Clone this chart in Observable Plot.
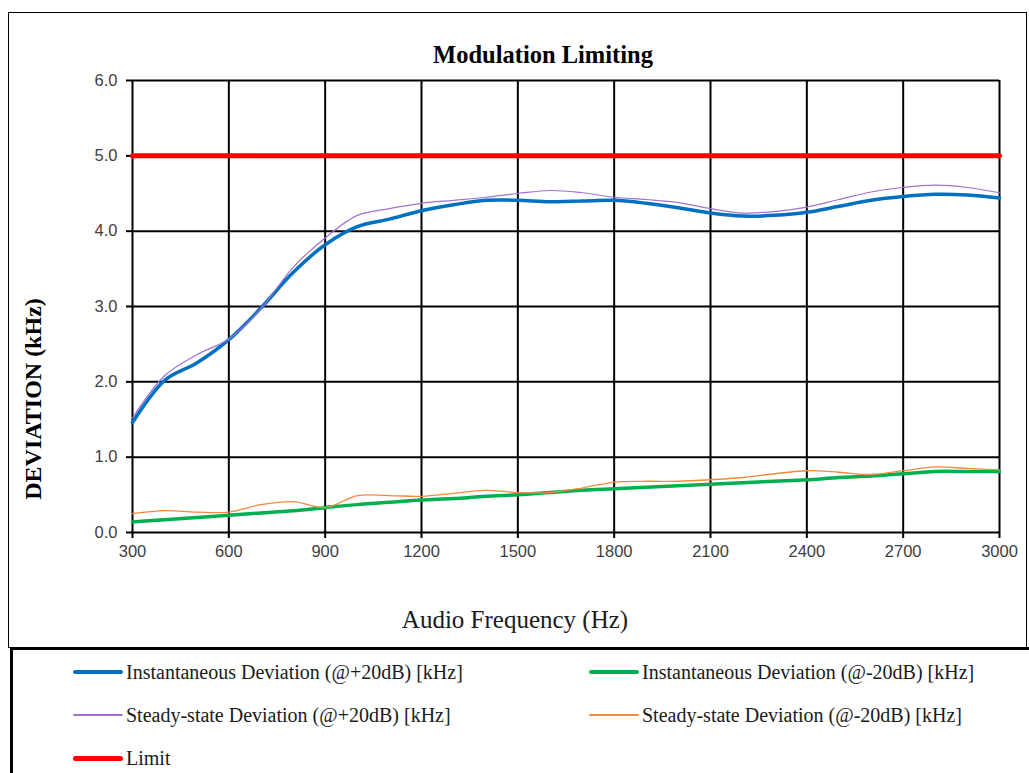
<!DOCTYPE html>
<html>
<head>
<meta charset="utf-8">
<script src="https://cdn.jsdelivr.net/npm/d3@7"></script>
<script src="https://cdn.jsdelivr.net/npm/@observablehq/plot@0.6"></script>
<style>
  html, body { margin: 0; padding: 0; background: #fff; overflow: hidden; width: 1029px; height: 773px; }
  #wrap { position: relative; width: 1029px; height: 773px; }
  #chart { position: absolute; left: 0; top: 0; }
  .serif { font-family: "Liberation Serif", "Times New Roman", serif; color: #000; white-space: nowrap; position: absolute; line-height: 1; }
  #box { position: absolute; left: 8px; top: 12px; width: 1019px; height: 636px; border: 1.5px solid #000; box-sizing: border-box; pointer-events: none; }
  #legendbox { position: absolute; left: 10px; top: 647px; width: 1030px; height: 140px; border-left: 3px solid #000; border-top: 3px solid #000; box-sizing: border-box; }
  .lg { position: absolute; display: flex; align-items: center; }
  .sw { width: 50px; border-radius: 3px; }
  .lt { font-family: "Liberation Serif", "Times New Roman", serif; font-size: 20px; color: #1a1a1a; margin-left: 3px; white-space: nowrap; }
</style>
</head>
<body>
<div id="wrap">
  <div id="chart"></div>
  <div id="box"></div>
  <div class="serif" id="title" style="left:543px; top:55px; transform:translate(-50%,-50%); font-weight:bold; font-size:24.5px;">Modulation Limiting</div>
  <div class="serif" id="ylab" style="left:33px; top:399px; transform:translate(-50%,-50%) rotate(-90deg); font-weight:bold; font-size:24px;">DEVIATION (kHz)</div>
  <div class="serif" id="xlab" style="left:515px; top:619px; transform:translate(-50%,-50%); font-size:25px; color:#1a1a1a;">Audio Frequency (Hz)</div>
  <div id="legendbox"></div>
  <div id="legend"></div>
</div>
<script>
// ---- data ----
const freq = [300, 400, 500, 600, 700, 800, 900, 1000, 1100, 1200, 1300, 1400, 1500, 1600,
              1700, 1800, 1900, 2000, 2100, 2200, 2300, 2400, 2500, 2600, 2700, 2800, 2900, 3000];
const instPlus20 = [1.46, 2.02, 2.25, 2.56, 2.98, 3.45, 3.82, 4.06, 4.16, 4.27, 4.35, 4.41, 4.41, 4.39,
                    4.40, 4.41, 4.37, 4.31, 4.24, 4.20, 4.21, 4.25, 4.33, 4.41, 4.46, 4.49, 4.48, 4.44];
const instMinus20 = [0.14, 0.17, 0.20, 0.23, 0.26, 0.29, 0.33, 0.37, 0.40, 0.43, 0.45, 0.48, 0.50, 0.53,
                     0.56, 0.58, 0.60, 0.62, 0.64, 0.66, 0.68, 0.70, 0.73, 0.75, 0.78, 0.81, 0.81, 0.81];
const steadyPlus20 = [1.52, 2.08, 2.36, 2.57, 2.97, 3.52, 3.91, 4.21, 4.30, 4.37, 4.41, 4.45, 4.50, 4.54,
                      4.51, 4.45, 4.42, 4.38, 4.30, 4.24, 4.26, 4.32, 4.42, 4.52, 4.58, 4.61, 4.58, 4.51];
const steadyMinus20 = [0.25, 0.29, 0.27, 0.27, 0.37, 0.41, 0.33, 0.49, 0.49, 0.48, 0.52, 0.56, 0.53, 0.53,
                       0.59, 0.67, 0.68, 0.68, 0.70, 0.73, 0.78, 0.82, 0.80, 0.77, 0.82, 0.87, 0.85, 0.83];
const limitFreq = [300, 3000];
const limitValues = [5.0, 5.0];
const xTicks = [300, 600, 900, 1200, 1500, 1800, 2100, 2400, 2700, 3000];
const yTicks = [0, 1, 2, 3, 4, 5, 6];

const seriesNames = [
  "Instantaneous Deviation (@+20dB) [kHz]",
  "Instantaneous Deviation (@-20dB) [kHz]",
  "Steady-state Deviation (@+20dB) [kHz]",
  "Steady-state Deviation (@-20dB) [kHz]",
  "Limit"
];
const seriesColors = ["#0070C0", "#00B050", "#9E72CE", "#F08A3C", "#FF0000"];
const seriesWidths = [3.5, 3.5, 1.2, 1.3, 5];

const toRows = (vals) => freq.map((f, i) => ({f, v: vals[i]}));
const rows = [toRows(instPlus20), toRows(instMinus20), toRows(steadyPlus20), toRows(steadyMinus20),
              limitFreq.map((f, i) => ({f, v: limitValues[i]}))];

const chart = Plot.plot({
  width: 1029,
  height: 650,
  marginLeft: 132,
  marginRight: 30,
  marginTop: 80,
  marginBottom: 118,
  style: {background: "transparent", fontFamily: "'Liberation Sans', Arial, sans-serif", fontSize: "16px"},
  x: {domain: [300, 3000]},
  y: {domain: [0, 6]},
  marks: [
    Plot.gridX(xTicks, {stroke: "#000", strokeOpacity: 1, strokeWidth: 2}),
    Plot.gridY(yTicks, {stroke: "#000", strokeOpacity: 1, strokeWidth: 2}),
    Plot.axisX(xTicks, {tickSize: 6, tickPadding: 7, stroke: "#000", strokeWidth: 2, fill: "#404040", fontSize: 16.5, label: null, tickFormat: d => String(d)}),
    Plot.axisY(yTicks, {tickSize: 6, tickPadding: 9, stroke: "#000", strokeWidth: 2, fill: "#404040", fontSize: 16.5, label: null, tickFormat: d => d.toFixed(1)}),
    ...[0, 1, 2, 3, 4].map(i => Plot.line(rows[i], {
      x: "f", y: "v", stroke: seriesColors[i], strokeWidth: seriesWidths[i],
      curve: i === 4 ? "linear" : "catmull-rom"
    }))
  ]
});
document.getElementById("chart").appendChild(chart);

// legend
const legendPos = [
  {x: 73, y: 672}, {x: 589, y: 672},
  {x: 73, y: 715}, {x: 589, y: 715},
  {x: 73, y: 758}
];
const legend = document.getElementById("legend");
seriesNames.forEach((name, i) => {
  const item = document.createElement("div");
  item.className = "lg";
  item.style.left = legendPos[i].x + "px";
  item.style.top = (legendPos[i].y - 12) + "px";
  item.style.height = "24px";
  const sw = document.createElement("div");
  sw.className = "sw";
  sw.style.height = seriesWidths[i] + "px";
  sw.style.background = seriesColors[i];
  const t = document.createElement("span");
  t.className = "lt";
  t.textContent = name;
  item.appendChild(sw);
  item.appendChild(t);
  legend.appendChild(item);
});
</script>
</body>
</html>
